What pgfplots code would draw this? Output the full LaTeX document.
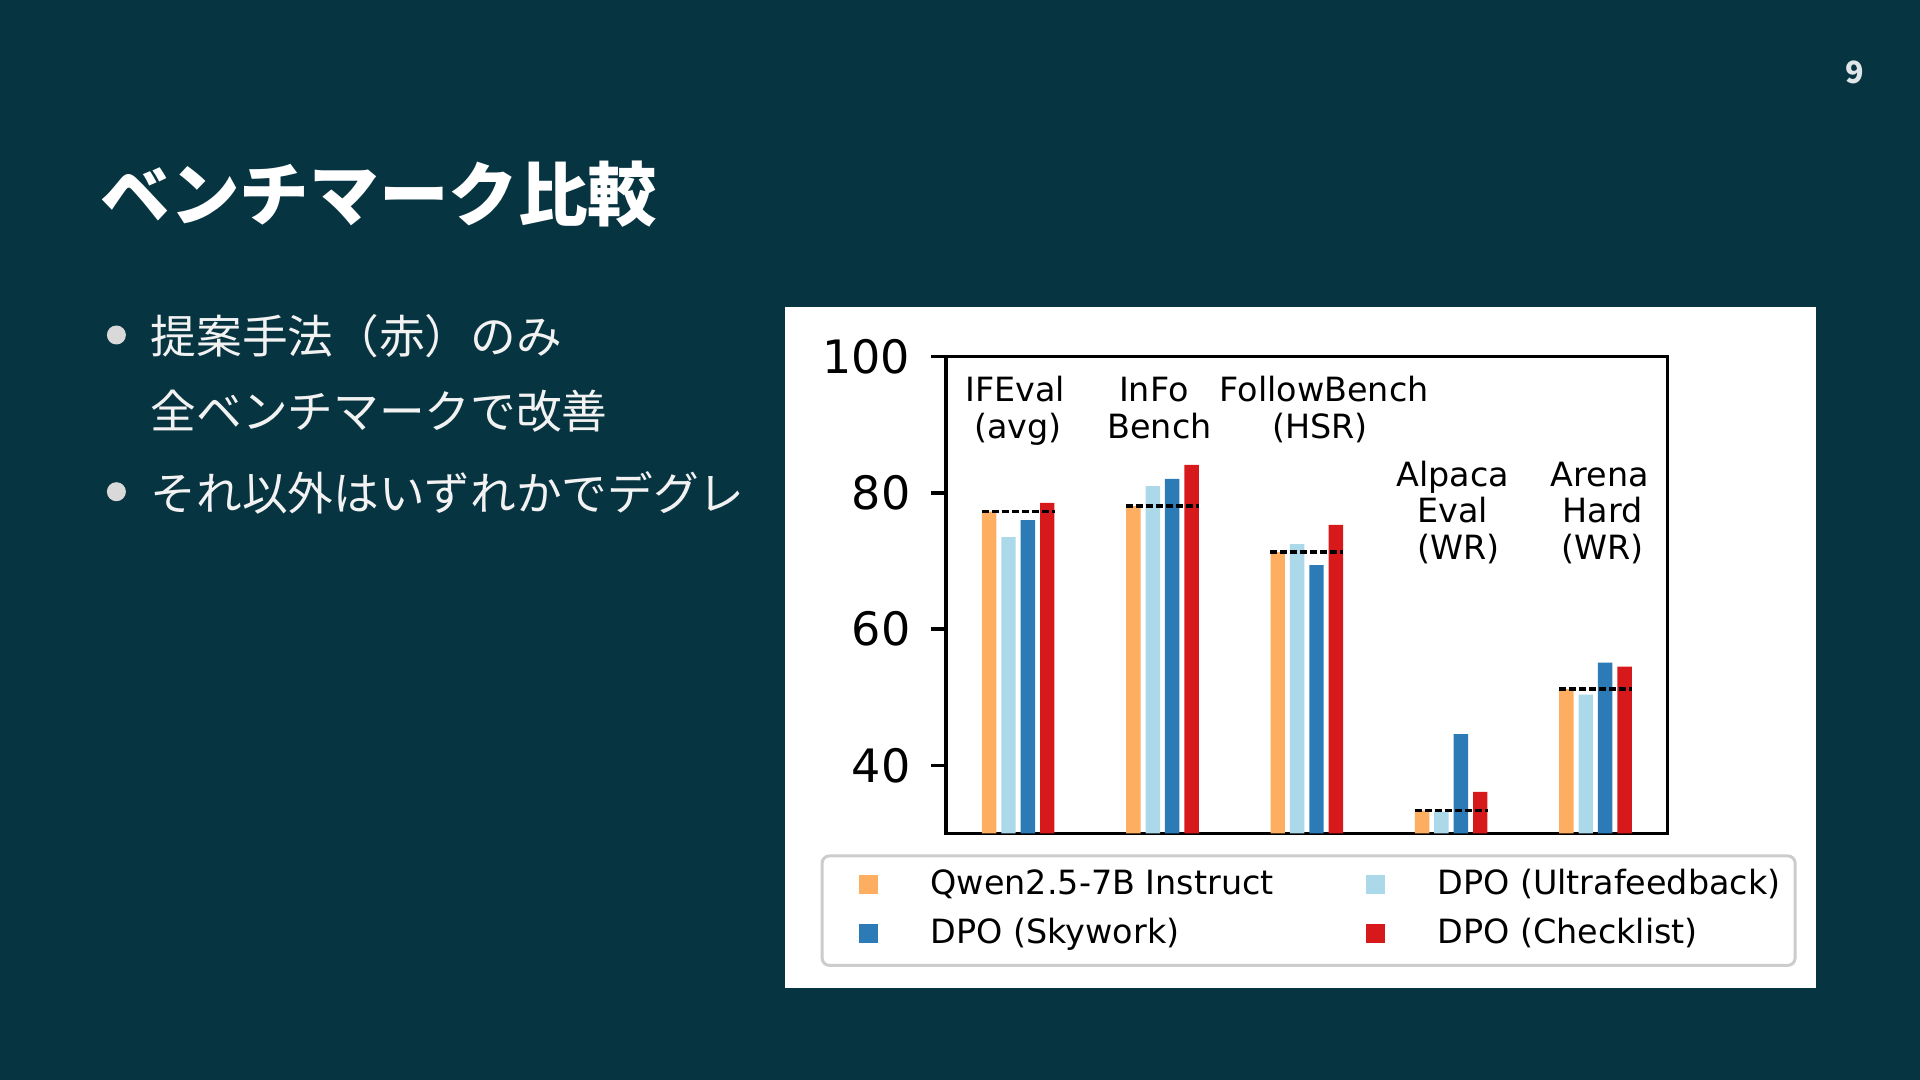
\documentclass[border=0pt]{standalone}
\usepackage{pgfplots}
\pgfplotsset{compat=1.18}
\usepackage{fontspec}
\setmainfont{DejaVu Sans}
\newfontfamily\cjk{Noto Sans CJK JP}
\definecolor{bg}{HTML}{073441}
\definecolor{cqwen}{HTML}{FDAE61}
\definecolor{cuf}{HTML}{ABD9E9}
\definecolor{csky}{HTML}{2C7BB6}
\definecolor{cchk}{HTML}{D7191C}
\definecolor{lgray}{HTML}{CCCCCC}
\definecolor{dotc}{HTML}{D9D9D9}
\definecolor{txtc}{HTML}{F2F2F2}
\definecolor{pagec}{HTML}{E0E6E8}
\begin{document}
\begin{tikzpicture}
\fill[bg] (0,0) rectangle (19.2,10.8);
% title
\node[anchor=base west, inner sep=0pt, text=white] at (1.0,8.59) {\cjk\bfseries\fontsize{19.8}{24}\selectfont ベンチマーク比較};
% page number
\node[anchor=base, inner sep=0pt, text=pagec] at (18.55,9.96) {\cjk\bfseries\fontsize{8.7}{10}\selectfont 9};
% bullets
\fill[dotc] (1.164,7.45) circle (0.095);
\fill[dotc] (1.164,5.883) circle (0.095);
\node[anchor=base west, inner sep=0pt, text=txtc] at (1.50,7.265) {\cjk\fontsize{13.0}{16}\selectfont 提案手法（赤）のみ};
\node[anchor=base west, inner sep=0pt, text=txtc] at (1.50,6.515) {\cjk\fontsize{13.0}{16}\selectfont 全ベンチマークで改善};
\node[anchor=base west, inner sep=0pt, text=txtc] at (1.50,5.695) {\cjk\fontsize{13.0}{16}\selectfont それ以外はいずれかでデグレ};
% white panel
\fill[white] (7.85,0.92) rectangle (18.16,7.73);
\begin{axis}[
  at={(9.46cm,2.465cm)}, anchor=south west,
  scale only axis, width=7.216cm, height=4.768cm,
  xmin=-0.5, xmax=4.5, ymin=30, ymax=100,
  xtick=\empty, ytick={40,60,80,100},
  ytick pos=left, tick align=outside, major tick length=0.15cm,
  axis line style={line width=0.95pt},
  every tick/.style={black, line width=0.95pt},
  ticklabel style={font=\fontsize{13.1}{15}\selectfont},
  /pgf/number format/assume math mode=true,
  yticklabel style={inner xsep=0.2cm},
  legend columns=2,
  legend cell align=left,
  legend style={
    at={(-0.1737,-0.044)}, anchor=north west,
    draw=lgray, line width=0.85pt, rounded corners=0.07cm, fill=white,
    inner xsep=0.145cm, inner ysep=0.125cm,
    font=\fontsize{9.5}{11}\selectfont,
    row sep=0.14cm,
    /tikz/every odd column/.append style={column sep=0.527cm},
    /tikz/every even column/.append style={column sep=0.697cm},
    nodes={inner sep=0pt, text height=0.75em, text depth=0.25em},
    cells={anchor=base west},
  },
]
\addplot[ybar, bar width=0.1, bar shift=-0.2016, fill=cqwen, draw=none,
  legend image code/.code={\path (-0.223cm,0); \fill[cqwen, sharp corners] (0cm,0.013cm) rectangle (0.19cm,0.2cm);}]
  coordinates {(0,77.25) (1,78.05) (2,71.3) (3,33.35) (4,51.2)};
\addlegendentry{Qwen2.5-7B Instruct}
\addplot[ybar, bar width=0.1, bar shift=-0.0672, fill=cuf, draw=none,
  legend image code/.code={\path (-0.223cm,0); \fill[cuf, sharp corners] (0cm,0.013cm) rectangle (0.19cm,0.2cm);}]
  coordinates {(0,73.5) (1,81.0) (2,72.5) (3,33.2) (4,50.4)};
\addlegendentry{DPO (Ultrafeedback)}
\addplot[ybar, bar width=0.1, bar shift=0.0672, fill=csky, draw=none,
  legend image code/.code={\path (-0.223cm,0); \fill[csky, sharp corners] (0cm,0.013cm) rectangle (0.19cm,0.2cm);}]
  coordinates {(0,76.0) (1,82.05) (2,69.4) (3,44.6) (4,55.1)};
\addlegendentry{DPO (Skywork)}
\addplot[ybar, bar width=0.1, bar shift=0.2016, fill=cchk, draw=none,
  legend image code/.code={\path (-0.223cm,0); \fill[cchk, sharp corners] (0cm,0.013cm) rectangle (0.19cm,0.2cm);}]
  coordinates {(0,78.55) (1,84.1) (2,75.3) (3,36.1) (4,54.5)};
\addlegendentry{DPO (Checklist)}
% baselines (Qwen)
\addplot[forget plot, sharp plot, black, line width=1pt, dash pattern=on 0.07cm off 0.03cm] coordinates {(-0.253,77.25) (0.253,77.25)};
\addplot[forget plot, sharp plot, black, line width=1pt, dash pattern=on 0.07cm off 0.03cm] coordinates {(0.747,78.05) (1.253,78.05)};
\addplot[forget plot, sharp plot, black, line width=1pt, dash pattern=on 0.07cm off 0.03cm] coordinates {(1.747,71.3) (2.253,71.3)};
\addplot[forget plot, sharp plot, black, line width=1pt, dash pattern=on 0.07cm off 0.03cm] coordinates {(2.747,33.4) (3.253,33.4)};
\addplot[forget plot, sharp plot, black, line width=1pt, dash pattern=on 0.07cm off 0.03cm] coordinates {(3.747,51.2) (4.253,51.2)};
% group labels
\begin{scope}[every node/.style={anchor=base, inner sep=0pt, font=\fontsize{9.5}{11}\selectfont}]
\node at (axis cs:-0.02,93.39) {IFEval};
\node at (axis cs:0.0,88.0) {(avg)};
\node at (axis cs:0.94,93.39) {InFo};
\node at (axis cs:0.98,88.0) {Bench};
\node at (axis cs:2.12,93.39) {FollowBench};
\node at (axis cs:2.09,88.0) {(HSR)};
\node at (axis cs:3.01,81.0) {Alpaca};
\node at (axis cs:3.01,75.63) {Eval};
\node at (axis cs:3.05,70.24) {(WR)};
\node at (axis cs:4.03,81.0) {Arena};
\node at (axis cs:4.05,75.63) {Hard};
\node at (axis cs:4.05,70.24) {(WR)};
\end{scope}
\end{axis}
\end{tikzpicture}
\end{document}
